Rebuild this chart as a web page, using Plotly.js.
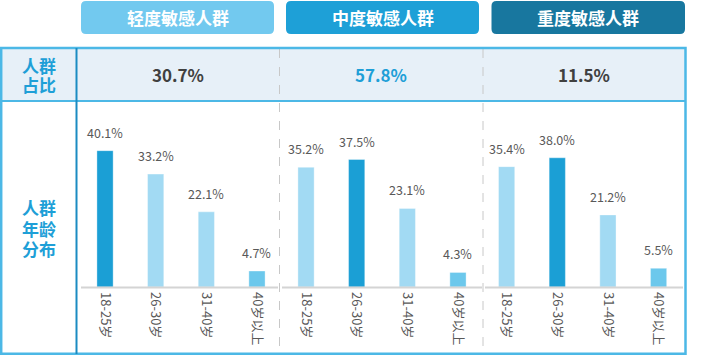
<!DOCTYPE html>
<html>
<head>
<meta charset="utf-8">
<script src="https://cdn.plot.ly/plotly-3.0.1.min.js"></script>
<style>html,body{margin:0;padding:0;background:#fff;}#chart{width:709px;height:355px;}</style>
</head>
<body>
<div id="chart"></div>
<script>
// ---- data ----
const groups = ['轻度敏感人群', '中度敏感人群', '重度敏感人群'];
const shares = [30.7, 57.8, 11.5];
const ageCats = ['18-25岁', '26-30岁', '31-40岁', '40岁以上'];
const mildAge = [40.1, 33.2, 22.1, 4.7];
const moderateAge = [35.2, 37.5, 23.1, 4.3];
const severeAge = [35.4, 38.0, 21.2, 5.5];
const shareRowLabel = ['人群', '占比'];
const ageRowLabel = ['人群', '年龄', '分布'];

// ---- layout helpers (pixel -> paper) ----
const W = 709, H = 355;
const px = x => x / W;
const py = y => 1 - y / H;
const FONT = 'Noto Sans CJK SC, Microsoft YaHei, sans-serif';

const series = [mildAge, moderateAge, severeAge];
const headerColors = ['#72c9ef', '#1ea0d7', '#18779f'];
const shareColors = ['#404040', '#1e9fd7', '#404040'];
const panels = [[79.7, 282.3], [280.7, 483.3], [481.3, 683.9]];
const baseY = 287, topY = 100;
const yMax = (baseY - topY) / 3.4;

const data = [];
const annotations = [];
const shapes = [];
const layout = {
  width: W, height: H,
  margin: {l: 0, r: 0, t: 0, b: 0},
  paper_bgcolor: '#ffffff', plot_bgcolor: 'rgba(0,0,0,0)',
  showlegend: false,
  font: {family: FONT, color: '#595959'},
  bargap: 0.68
};

// background / table shapes
shapes.push({type: 'rect', xref: 'paper', yref: 'paper', x0: px(2), x1: px(685), y0: py(49), y1: py(100.5),
  fillcolor: '#e7f0f8', line: {width: 0}, layer: 'below'});
shapes.push({type: 'line', xref: 'paper', yref: 'paper', x0: px(279.5), x1: px(279.5), y0: py(49), y1: py(353),
  line: {color: '#c8c8c8', width: 1, dash: 'dash'}, layer: 'below'});
shapes.push({type: 'line', xref: 'paper', yref: 'paper', x0: px(483), x1: px(483), y0: py(49), y1: py(353),
  line: {color: '#c8c8c8', width: 1, dash: 'dash'}, layer: 'below'});
shapes.push({type: 'rect', xref: 'paper', yref: 'paper', x0: px(1.2), x1: px(685.5), y0: py(48), y1: py(353.8),
  fillcolor: 'rgba(0,0,0,0)', line: {color: '#4cb8e6', width: 2.5}});
shapes.push({type: 'line', xref: 'paper', yref: 'paper', x0: px(1.2), x1: px(685.5), y0: py(101), y1: py(101),
  line: {color: '#4cb8e6', width: 2}});
shapes.push({type: 'line', xref: 'paper', yref: 'paper', x0: px(76.5), x1: px(76.5), y0: py(48), y1: py(354),
  line: {color: '#1b8bc2', width: 2}});

// baselines
[[81, 278], [282, 482], [485, 683]].forEach(b => {
  shapes.push({type: 'line', xref: 'paper', yref: 'paper', x0: px(b[0]), x1: px(b[1]), y0: py(baseY + 0.5), y1: py(baseY + 0.5),
    line: {color: '#d4d4d4', width: 2}});
});

// header rounded boxes
function roundRect(x0, y0, x1, y1, r) {
  const X = px, Y = py;
  return `M ${X(x0 + r)},${Y(y0)} L ${X(x1 - r)},${Y(y0)} Q ${X(x1)},${Y(y0)} ${X(x1)},${Y(y0 + r)} ` +
    `L ${X(x1)},${Y(y1 - r)} Q ${X(x1)},${Y(y1)} ${X(x1 - r)},${Y(y1)} L ${X(x0 + r)},${Y(y1)} ` +
    `Q ${X(x0)},${Y(y1)} ${X(x0)},${Y(y1 - r)} L ${X(x0)},${Y(y0 + r)} Q ${X(x0)},${Y(y0)} ${X(x0 + r)},${Y(y0)} Z`;
}
const headerBoxes = [[81, 274], [286, 479], [491.5, 685]];
groups.forEach((g, i) => {
  const hb = headerBoxes[i];
  shapes.push({type: 'path', xref: 'paper', yref: 'paper', path: roundRect(hb[0], 1, hb[1], 34, 5),
    fillcolor: headerColors[i], line: {width: 0}});
  annotations.push({xref: 'paper', yref: 'paper', x: px((hb[0] + hb[1]) / 2), y: py(17.5),
    text: '<b>' + g + '</b>', showarrow: false, font: {size: 17, color: '#ffffff', family: FONT},
    xanchor: 'center', yanchor: 'middle'});
  annotations.push({xref: 'paper', yref: 'paper', x: px([178, 381, 584][i]), y: py(75),
    text: '<b>' + shares[i].toFixed(1) + '%</b>', showarrow: false,
    font: {size: 17, color: shareColors[i], family: FONT}, xanchor: 'center', yanchor: 'middle'});
});

// row labels (one annotation per line for tight spacing)
shareRowLabel.forEach((t, k) => {
  annotations.push({xref: 'paper', yref: 'paper', x: px(38.5), y: py([65.5, 84.5][k]), text: '<b>' + t + '</b>',
    showarrow: false, font: {size: 17, color: '#1e9fd7', family: FONT}, xanchor: 'center', yanchor: 'middle'});
});
ageRowLabel.forEach((t, k) => {
  annotations.push({xref: 'paper', yref: 'paper', x: px(38.5), y: py([207.5, 228, 248.5][k]), text: '<b>' + t + '</b>',
    showarrow: false, font: {size: 17, color: '#1e9fd7', family: FONT}, xanchor: 'center', yanchor: 'middle'});
});

// bar panels
series.forEach((vals, i) => {
  const xa = i === 0 ? 'x' : 'x' + (i + 1);
  const ya = i === 0 ? 'y' : 'y' + (i + 1);
  const maxV = Math.max(...vals);
  const colors = vals.map((v, j) => v === maxV ? '#1b9fd5' : (j === vals.length - 1 ? '#6cc8ec' : '#a2daf3'));
  data.push({type: 'bar', x: ageCats, y: vals, xaxis: xa, yaxis: ya,
    marker: {color: colors, line: {color: 'rgba(255,255,255,0.35)', width: 1}},
    hoverinfo: 'skip'});
  const xKey = i === 0 ? 'xaxis' : 'xaxis' + (i + 1);
  const yKey = i === 0 ? 'yaxis' : 'yaxis' + (i + 1);
  layout[xKey] = {domain: [px(panels[i][0]), px(panels[i][1])], anchor: ya, type: 'category',
    range: [-0.5, 3.5], showgrid: false, zeroline: false, showline: false, ticks: '',
    tickangle: 90, tickfont: {size: 13, color: '#595959', family: FONT}, fixedrange: true, ticklabelstandoff: 4};
  layout[yKey] = {domain: [py(baseY), py(topY)], anchor: xa, range: [0, yMax], visible: false, fixedrange: true};
  vals.forEach((v, j) => {
    annotations.push({xref: xa, yref: ya, x: ageCats[j], y: v, text: v.toFixed(1) + '%', showarrow: false,
      yanchor: 'bottom', xanchor: 'center', yshift: 7, font: {size: 12.5, color: '#595959', family: FONT}});
  });
});

layout.shapes = shapes;
layout.annotations = annotations;
Plotly.newPlot('chart', data, layout, {displayModeBar: false, staticPlot: true});
</script>
</body>
</html>
